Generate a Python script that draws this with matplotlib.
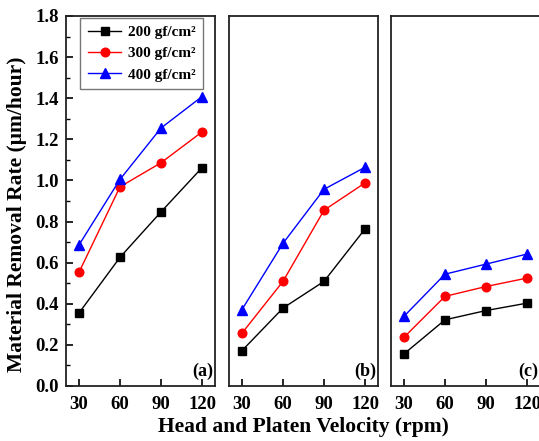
import numpy as np
import matplotlib.pyplot as plt
from matplotlib.ticker import MultipleLocator

plt.rcParams['font.family'] = 'Liberation Serif'
plt.rcParams['font.weight'] = 'bold'

velocity = [30, 60, 90, 120]
labels = ['200 gf/cm\u00b2', '300 gf/cm\u00b2', '400 gf/cm\u00b2']
panel_tags = ['(a)', '(b)', '(c)']

# material removal rate (um/hour) per panel, per pressure
mrr_a = [[0.355, 0.626, 0.847, 1.062],
         [0.553, 0.969, 1.086, 1.236],
         [0.686, 1.005, 1.255, 1.408]]
mrr_b = [[0.172, 0.379, 0.509, 0.764],
         [0.257, 0.509, 0.855, 0.988],
         [0.372, 0.694, 0.957, 1.064]]
mrr_c = [[0.156, 0.322, 0.367, 0.403],
         [0.237, 0.436, 0.484, 0.525],
         [0.339, 0.544, 0.593, 0.642]]

colors = ['black', 'red', 'blue']
markers = ['s', 'o', '^']
msizes = [5.5, 6.2, 6.8]

fig = plt.figure(figsize=(5.39, 4.41), dpi=100)
lefts = [66 / 539, 229 / 539, 391 / 539]
w = 149 / 539
bottom = 55 / 441
h = 370 / 441

for i, data in enumerate([mrr_a, mrr_b, mrr_c]):
    ax = fig.add_axes([lefts[i], bottom, w, h])
    for j in range(3):
        ax.plot(velocity, data[j], color=colors[j], marker=markers[j],
                markersize=msizes[j], linewidth=1, label=labels[j])
    ax.set_xlim(20.5, 129.5)
    ax.set_ylim(0, 1.8)
    ax.set_xticks(velocity)
    ax.yaxis.set_major_locator(MultipleLocator(0.2))
    ax.yaxis.set_minor_locator(MultipleLocator(0.1))
    for s in ax.spines.values():
        s.set_linewidth(1.3)
        s.set_color('#222222')
    ax.tick_params(axis='x', direction='in', length=5, width=1.2,
                   labelsize=13.5, top=False, pad=7)
    ax.tick_params(axis='y', which='major', direction='in', length=5, width=1.2,
                   labelsize=13.5, right=False, pad=5)
    ax.tick_params(axis='y', which='minor', direction='in', length=3, width=1.0,
                   right=False)
    if i == 0:
        ax.yaxis.set_major_formatter(plt.FuncFormatter(lambda v, p: '%.1f' % v))
        ax.set_ylabel('Material Removal Rate (\u03bcm/hour)', fontsize=15.5,
                      fontweight='bold')
        ax.yaxis.set_label_coords(-0.262, 0.465)
        leg = ax.legend(loc='upper left', bbox_to_anchor=(0.085, 1.0), fontsize=11,
                        frameon=True, fancybox=False, handlelength=2.2,
                        borderpad=0.5, labelspacing=0.5, handletextpad=0.4,
                        borderaxespad=0.1)
        leg.get_frame().set_edgecolor('#555555')
        leg.get_frame().set_linewidth(1.0)
    else:
        ax.tick_params(axis='y', which='both', left=False, labelleft=False)
    ax.text(0.987, 0.039, panel_tags[i], transform=ax.transAxes, ha='right',
            va='center', fontsize=13, fontweight='bold')

fig.text(303.5 / 539, 9 / 441, 'Head and Platen Velocity (rpm)', ha='center',
         va='baseline', fontsize=15.5, fontweight='bold')

fig.savefig('out.png', dpi=100)
